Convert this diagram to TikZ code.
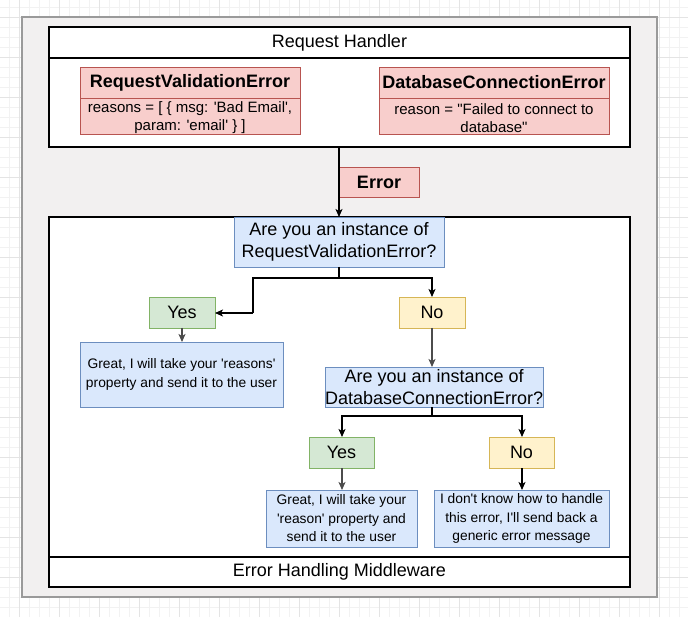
\documentclass[tikz,border=0pt]{standalone}
\usepackage{fontspec}
\setmainfont{Liberation Sans}[Ligatures=TeXOff]
\usetikzlibrary{arrows.meta}
\definecolor{redfill}{HTML}{F8CECC}\definecolor{redline}{HTML}{B85450}
\definecolor{bluefill}{HTML}{DAE8FC}\definecolor{blueline}{HTML}{6C8EBF}
\definecolor{greenfill}{HTML}{D5E8D4}\definecolor{greenline}{HTML}{82B366}
\definecolor{yelfill}{HTML}{FFF2CC}\definecolor{yelline}{HTML}{D6B656}
\definecolor{panelfill}{HTML}{F2F0F0}\definecolor{panelline}{HTML}{9A9A9A}
\definecolor{gridminor}{HTML}{F2F2F2}\definecolor{gridmajor}{HTML}{E4E4E4}
\tikzset{
  box/.style={draw, line width=1.2pt, inner sep=0pt, outer sep=0pt, anchor=north west},
  redbox/.style={box, draw=redline, fill=redfill, line width=0.9pt},
  bluebox/.style={box, draw=blueline, fill=bluefill, line width=0.9pt},
  greenbox/.style={box, draw=greenline, fill=greenfill, line width=0.9pt},
  yelbox/.style={box, draw=yelline, fill=yelfill, line width=0.9pt},
  big/.style={font=\fontsize{18}{21.6}\selectfont, align=center},
  bigb/.style={font=\bfseries\fontsize{18}{21.6}\selectfont, align=center},
  small/.style={font=\fontsize{15}{18}\selectfont, align=center},
  smaller/.style={font=\fontsize{13.8}{18.5}\selectfont, align=center},
  conn/.style={line width=1.1pt, -{Stealth[length=8pt,width=7pt,inset=2pt]}},
  gconn/.style={conn, draw=black!70},
  plain/.style={line width=1.1pt},
}
\begin{document}
\begin{tikzpicture}[x=1pt,y=-1pt]
\useasboundingbox (0,0) rectangle (688,617);
\fill[white] (0,0) rectangle (688,617);
% grid
\foreach \i in {-1,...,69} {\draw[gridminor, line width=0.6pt] (\i*10+9,0) -- (\i*10+9,617);}
\foreach \j in {0,...,62} {\draw[gridminor, line width=0.6pt] (0,\j*10+7) -- (688,\j*10+7);}
\foreach \i in {0,...,17} {\draw[gridmajor, line width=0.8pt] (\i*40+19,0) -- (\i*40+19,617);}
\foreach \j in {0,...,15} {\draw[gridmajor, line width=0.8pt] (0,\j*40+17) -- (688,\j*40+17);}
% outer panel
\node[box, draw=panelline, fill=panelfill, line width=2pt, minimum width=635pt, minimum height=580pt] (panel) at (22,17) {};
% request handler
\node[box, fill=white, minimum width=581pt, minimum height=120pt] (rh) at (49,27) {};
\node[box, minimum width=581pt, minimum height=31pt, big] (rht) at (49,27) {Request Handler};
% RequestValidationError
\node[redbox, minimum width=220pt, minimum height=67pt] (rve) at (80,67) {};
\node[redbox, minimum width=220pt, minimum height=31pt, bigb] (rveh) at (80,67) {RequestValidationError};
\node[small] (rvet) at (190,118) {reasons = [ \{ msg: 'Bad Email',\\ param: 'email' \} ]};
% DatabaseConnectionError
\node[redbox, minimum width=230pt, minimum height=67pt] (dce) at (379,67) {};
\node[redbox, minimum width=230pt, minimum height=31pt, bigb] (dceh) at (379,67) {DatabaseConnectionError};
\node[small] (dcet) at (494,118) {reason = "Failed to connect to\\ database"};
% middleware
\node[box, fill=white, minimum width=581pt, minimum height=370pt] (mw) at (49,217) {};
\node[box, minimum width=581pt, minimum height=30pt, big] (mwt) at (49,557) {Error Handling Middleware};
% error
\node[redbox, minimum width=80pt, minimum height=30pt, bigb] (err) at (339,167) {Error};
% Q1
\node[bluebox, minimum width=210pt, minimum height=50pt, big] (q1) at (234,217) {Are you an instance of\\RequestValidationError?};
\node[greenbox, minimum width=66pt, minimum height=31pt, big] (y1) at (149,297) {Yes};
\node[yelbox, minimum width=66pt, minimum height=31pt, big] (n1) at (399,297) {No};
\node[bluebox, minimum width=203pt, minimum height=65pt, smaller] (b1) at (80,342) {Great, I will take your 'reasons'\\property and send it to the user};
% Q2
\node[bluebox, minimum width=212pt, minimum height=40pt, big] (q2) at (325,367) {Are you an instance of\\DatabaseConnectionError?};
\node[greenbox, minimum width=65pt, minimum height=31pt, big] (y2) at (309,437) {Yes};
\node[yelbox, minimum width=65pt, minimum height=31pt, big] (n2) at (489,437) {No};
\node[bluebox, minimum width=151pt, minimum height=57pt, smaller] (b2) at (266,490) {Great, I will take your\\'reason' property and\\send it to the user};
\node[bluebox, minimum width=175pt, minimum height=57pt, smaller] (b3) at (434,490) {I don't know how to handle\\this error, I'll send back a\\generic error message};
% connectors
\coordinate (c1) at (339,278);
\coordinate (c2) at (253,278);
\coordinate (c3) at (253,313);
\coordinate (c4) at (432,278);
\coordinate (d1) at (432,416);
\coordinate (d2) at (342,416);
\coordinate (d3) at (522,416);
\draw[conn] (rh.south -| err.west) -- (q1.north -| err.west);
\draw[plain] (q1.south -| c1) -- (c1) -- (c2) -- (c3);
\draw[conn] (c3) -- (y1.east |- c3);
\draw[conn] (c2) -- (c4) -- (n1.north -| c4);
\draw[gconn] (y1.south) -- (b1.north -| y1.south);
\draw[gconn] (n1.south -| c4) -- (q2.north -| c4);
\draw[plain] (q2.south -| d1) -- (d1);
\draw[conn] (d1) -- (d2) -- (y2.north -| d2);
\draw[conn] (d1) -- (d3) -- (n2.north -| d3);
\draw[gconn] (y2.south -| d2) -- (b2.north -| d2);
\draw[conn] (n2.south -| d3) -- (b3.north -| d3);
\end{tikzpicture}
\end{document}
